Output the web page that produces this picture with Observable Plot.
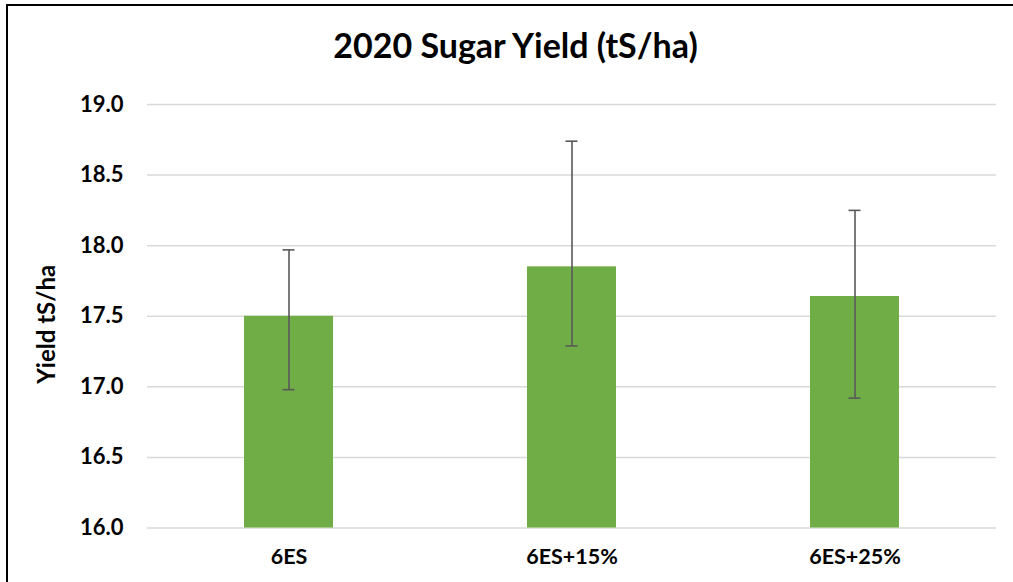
<!DOCTYPE html>
<html>
<head>
<meta charset="utf-8">
<script src="https://cdn.jsdelivr.net/npm/d3@7"></script>
<script src="https://cdn.jsdelivr.net/npm/@observablehq/plot@0.6"></script>
<style>
  html, body { margin: 0; padding: 0; background: #fff; overflow: hidden; width: 1013px; height: 582px; }
  #frame { position: absolute; left: 6px; top: 4px; width: 1040px; height: 620px; border: 2px solid #000; box-sizing: border-box; }
  #chart { position: absolute; left: 0; top: 0; }
  #chart svg { background: transparent; overflow: visible; }
</style>
</head>
<body>
<div id="frame"></div>
<div id="chart"></div>
<script>
const categories = ["6ES", "6ES+15%", "6ES+25%"];
const means = [17.50, 17.85, 17.64];
const errLow = [16.98, 17.29, 16.92];
const errHigh = [17.97, 18.74, 18.25];
const yTicks = [16.0, 16.5, 17.0, 17.5, 18.0, 18.5, 19.0];
const yDomain = [16.0, 19.0];
const titleText = "2020 Sugar Yield (tS/ha)";
const yLabelText = "Yield tS/ha";

const data = categories.map((c, i) => ({cat: c, mean: means[i], lo: errLow[i], hi: errHigh[i], base: yDomain[0]}));

const font = "Lato, 'Open Sans', sans-serif";
const green = "#70AD47";
const errColor = "#595959";

const chart = Plot.plot({
  width: 1013,
  height: 582,
  marginLeft: 147,
  marginRight: 17,
  marginTop: 104,
  marginBottom: 54.5,
  style: {fontFamily: font, background: "transparent", color: "#000"},
  x: {domain: categories, paddingInner: 0.686, paddingOuter: 0.343},
  y: {domain: yDomain},
  marks: [
    Plot.gridY(yTicks, {stroke: "#d9d9d9", strokeOpacity: 1, strokeWidth: 1.5}),
    Plot.axisY(yTicks, {tickSize: 0, tickPadding: 24, tickFormat: d3.format(".1f"), fontSize: 22, fontWeight: "bold", label: null, fill: "#000"}),
    Plot.axisX({tickSize: 0, tickPadding: 21, fontSize: 21.5, fontWeight: "bold", label: null, fill: "#000"}),
    Plot.barY(data, {x: "cat", y1: "base", y2: "mean", fill: green}),
    Plot.ruleX(data, {x: "cat", y1: "lo", y2: "hi", stroke: errColor, strokeWidth: 1.6}),
    Plot.tickY(data, {x: "cat", y: "hi", stroke: errColor, strokeWidth: 1.6, insetLeft: 38.5, insetRight: 38.5}),
    Plot.tickY(data, {x: "cat", y: "lo", stroke: errColor, strokeWidth: 1.6, insetLeft: 38.5, insetRight: 38.5}),
    Plot.text([titleText], {frameAnchor: "top", dx: -56.5, dy: -57, fontSize: 34, fontWeight: "bold", fill: "#000", lineAnchor: "middle"}),
    Plot.text([yLabelText], {frameAnchor: "left", textAnchor: "middle", dx: -100, dy: 8, rotate: -90, fontSize: 24, fontWeight: "bold", fill: "#000", lineAnchor: "middle"})
  ]
});
document.getElementById("chart").appendChild(chart);
</script>
</body>
</html>
